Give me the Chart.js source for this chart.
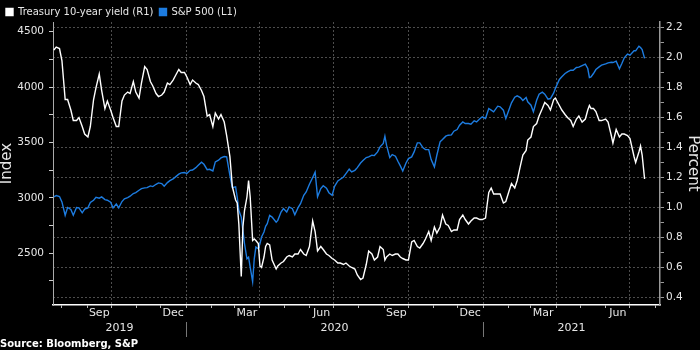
<!DOCTYPE html>
<html>
<head>
<meta charset="utf-8">
<script src="https://cdn.jsdelivr.net/npm/chart.js@4.4.1/dist/chart.umd.min.js"></script>
<style>
  html, body { margin: 0; padding: 0; background: #000; }
  canvas { display: block; }
</style>
</head>
<body>
<canvas id="chart" width="700" height="350"></canvas>
<script>
// observation dates (roughly twice a week, denser through the March 2020 crash)
var dates = [
    '2019-07-22','2019-07-25','2019-07-29','2019-08-01','2019-08-05','2019-08-08','2019-08-12','2019-08-15','2019-08-19','2019-08-22','2019-08-26','2019-08-29',
    '2019-09-02','2019-09-05','2019-09-09','2019-09-12','2019-09-16','2019-09-19','2019-09-23','2019-09-26','2019-09-30',
    '2019-10-03','2019-10-07','2019-10-10','2019-10-14','2019-10-17','2019-10-21','2019-10-24','2019-10-28','2019-10-31',
    '2019-11-04','2019-11-07','2019-11-11','2019-11-14','2019-11-18','2019-11-21','2019-11-25','2019-11-28',
    '2019-12-02','2019-12-05','2019-12-09','2019-12-12','2019-12-16','2019-12-19','2019-12-23','2019-12-26','2019-12-30',
    '2020-01-02','2020-01-06','2020-01-09','2020-01-13','2020-01-16','2020-01-20','2020-01-23','2020-01-27','2020-01-30',
    '2020-02-03','2020-02-06','2020-02-10','2020-02-13','2020-02-17','2020-02-20',
    '2020-02-24','2020-02-27','2020-03-02','2020-03-04','2020-03-06','2020-03-09','2020-03-11','2020-03-13','2020-03-16','2020-03-18','2020-03-20','2020-03-23','2020-03-25','2020-03-27','2020-03-30',
    '2020-04-01','2020-04-03','2020-04-06','2020-04-08','2020-04-10','2020-04-13','2020-04-16','2020-04-21','2020-04-23','2020-04-27','2020-04-30',
    '2020-05-04','2020-05-07','2020-05-11','2020-05-14','2020-05-18','2020-05-21','2020-05-25','2020-05-28',
    '2020-06-01','2020-06-05','2020-06-08','2020-06-11','2020-06-15','2020-06-18','2020-06-22','2020-06-25','2020-06-29',
    '2020-07-02','2020-07-06','2020-07-09','2020-07-13','2020-07-16','2020-07-20','2020-07-23','2020-07-27','2020-07-30',
    '2020-08-03','2020-08-06','2020-08-10','2020-08-13','2020-08-17','2020-08-20','2020-08-24','2020-08-27','2020-08-31',
    '2020-09-02','2020-09-04','2020-09-08','2020-09-11','2020-09-15','2020-09-18','2020-09-21','2020-09-24','2020-09-28',
    '2020-10-01','2020-10-05','2020-10-08','2020-10-12','2020-10-15','2020-10-19','2020-10-22','2020-10-26','2020-10-29',
    '2020-11-02','2020-11-05','2020-11-09','2020-11-12','2020-11-16','2020-11-19','2020-11-23','2020-11-26','2020-11-30',
    '2020-12-03','2020-12-07','2020-12-10','2020-12-14','2020-12-17','2020-12-21','2020-12-24','2020-12-28','2020-12-31',
    '2021-01-04','2021-01-06','2021-01-08','2021-01-11','2021-01-14','2021-01-19','2021-01-22','2021-01-26','2021-01-29',
    '2021-02-02','2021-02-05','2021-02-09','2021-02-12','2021-02-16','2021-02-19','2021-02-23','2021-02-25',
    '2021-03-01','2021-03-04','2021-03-08','2021-03-11','2021-03-15','2021-03-18','2021-03-22','2021-03-25','2021-03-29','2021-03-31',
    '2021-04-05','2021-04-08','2021-04-12','2021-04-15','2021-04-19','2021-04-22','2021-04-26','2021-04-29',
    '2021-05-03','2021-05-07','2021-05-10','2021-05-12','2021-05-14','2021-05-17','2021-05-20','2021-05-24','2021-05-27',
    '2021-06-01','2021-06-04','2021-06-08','2021-06-10','2021-06-14','2021-06-18','2021-06-21','2021-06-24','2021-06-28',
    '2021-07-01','2021-07-06','2021-07-08','2021-07-12','2021-07-14','2021-07-16','2021-07-19'
];

// Treasury 10-year yield, percent (right axis)
var yieldValues = [
    2.05, 2.07, 2.06, 1.98, 1.72, 1.72, 1.65, 1.58, 1.58, 1.60, 1.54, 1.49,
    1.47, 1.54, 1.72, 1.80, 1.89, 1.78, 1.66, 1.71, 1.65,
    1.60, 1.54, 1.54, 1.71, 1.75, 1.77, 1.76, 1.84, 1.77,
    1.73, 1.83, 1.94, 1.92, 1.84, 1.81, 1.76, 1.74,
    1.75, 1.77, 1.83, 1.82, 1.85, 1.88, 1.92, 1.90, 1.90,
    1.87, 1.82, 1.85, 1.83, 1.82, 1.78, 1.74, 1.61, 1.62,
    1.54, 1.63, 1.59, 1.62, 1.57, 1.48,
    1.34, 1.14, 1.05, 1.03, 0.89, 0.54, 0.87, 0.98, 1.07, 1.18, 1.07, 0.78, 0.79, 0.78, 0.76,
    0.61, 0.60, 0.67, 0.74, 0.76, 0.75, 0.65, 0.59, 0.61, 0.63, 0.64,
    0.67, 0.68, 0.67, 0.69, 0.69, 0.72, 0.69, 0.68,
    0.74, 0.91, 0.84, 0.71, 0.74, 0.72, 0.69, 0.68, 0.66,
    0.65, 0.63, 0.63, 0.62, 0.63, 0.61, 0.60, 0.59, 0.55,
    0.52, 0.53, 0.62, 0.71, 0.69, 0.65, 0.67, 0.74, 0.72,
    0.65, 0.67, 0.69, 0.68, 0.69, 0.69, 0.67, 0.66, 0.65,
    0.65, 0.77, 0.78, 0.74, 0.73, 0.76, 0.79, 0.84, 0.78,
    0.87, 0.83, 0.87, 0.95, 0.89, 0.88, 0.84, 0.85, 0.85,
    0.92, 0.95, 0.92, 0.89, 0.91, 0.93, 0.93, 0.92, 0.92,
    0.93, 1.02, 1.10, 1.13, 1.09, 1.09, 1.09, 1.03, 1.04,
    1.11, 1.16, 1.13, 1.18, 1.28, 1.35, 1.38, 1.45,
    1.47, 1.54, 1.56, 1.61, 1.66, 1.70, 1.68, 1.65, 1.72, 1.73,
    1.68, 1.65, 1.62, 1.60, 1.58, 1.54, 1.59, 1.61,
    1.57, 1.59, 1.65, 1.68, 1.66, 1.66, 1.64, 1.58, 1.58,
    1.59, 1.57, 1.48, 1.43, 1.52, 1.47, 1.49, 1.49, 1.48,
    1.46, 1.34, 1.30, 1.37, 1.41, 1.35, 1.19
];

// S&P 500 index level (left axis)
var spxValues = [
    3009, 3021, 3012, 2964, 2843, 2913, 2895, 2843, 2913, 2910, 2865, 2898,
    2910, 2958, 2979, 3006, 2997, 3009, 2985, 2979, 2961,
    2910, 2946, 2910, 2967, 2991, 3003, 3015, 3039, 3048,
    3069, 3084, 3090, 3093, 3108, 3102, 3123, 3135,
    3129, 3105, 3138, 3156, 3171, 3190, 3214, 3226, 3229,
    3220, 3249, 3252, 3273, 3294, 3322, 3303, 3255, 3258,
    3243, 3325, 3340, 3361, 3373, 3370,
    3204, 3093, 3099, 3008, 2888, 2827, 2707, 2586, 2450, 2465, 2375, 2245, 2450, 2556, 2541,
    2586, 2647, 2692, 2743, 2767, 2842, 2827, 2780, 2797, 2872, 2903,
    2872, 2918, 2903, 2848, 2912, 2948, 3024, 3054,
    3123, 3184, 3232, 3010, 3084, 3110, 3087, 3047, 3023,
    3105, 3153, 3168, 3189, 3219, 3259, 3234, 3249, 3273,
    3315, 3337, 3364, 3370, 3385, 3382, 3415, 3461, 3491,
    3557, 3476, 3364, 3391, 3376, 3331, 3289, 3243, 3315,
    3355, 3370, 3415, 3497, 3497, 3452, 3436, 3436, 3346,
    3280, 3385, 3506, 3527, 3557, 3566, 3569, 3602, 3617,
    3656, 3686, 3671, 3671, 3665, 3696, 3686, 3714, 3732,
    3717, 3762, 3807, 3792, 3777, 3828, 3822, 3792, 3717,
    3798, 3858, 3909, 3921, 3906, 3879, 3906, 3867,
    3837, 3777, 3882, 3936, 3954, 3936, 3891, 3897, 3948, 3988,
    4069, 4093, 4123, 4138, 4153, 4153, 4177, 4180,
    4195, 4207, 4168, 4087, 4093, 4123, 4159, 4183, 4198,
    4210, 4219, 4225, 4222, 4234, 4165, 4213, 4265, 4298,
    4289, 4328, 4328, 4370, 4358, 4340, 4259
];

var indexTicks = [2250, 2500, 2750, 3000, 3250, 3500, 3750, 4000, 4250, 4500];
var percentTicks = [0.4, 0.5, 0.6, 0.7, 0.8, 0.9, 1.0, 1.1, 1.2, 1.3, 1.4, 1.5, 1.6, 1.7, 1.8, 1.9, 2.0, 2.1, 2.2];
var monthLabels = ['Sep', 'Dec', 'Mar', 'Jun', 'Sep', 'Dec', 'Mar', 'Jun'];
var monthLabelDates = ['2019-09-16', '2019-12-16', '2020-03-16', '2020-06-16', '2020-09-16', '2020-12-16', '2021-03-16', '2021-06-16'];
var yearLabels = ['2019', '2020', '2021'];
var yearStarts = ['2019-01-01', '2020-01-01', '2021-01-01', '2022-01-01'];

var BLUE = '#1d7ce0';
var GRID = '#4d4d4d';
var TEXT = '#e6e6e6';

// days counted from 2020-01-01, used as the linear x value
function dayNum(s) {
    var p = s.split('-');
    return (Date.UTC(+p[0], +p[1] - 1, +p[2]) - Date.UTC(2020, 0, 1)) / 86400000;
}

var xMin = dayNum('2019-07-21');
var xMax = dayNum('2021-08-07');

// month ticks: small marks every month, dotted grid at quarter starts
var monthTicks = [];
for (var y = 2019; y <= 2021; y++) {
    for (var m = 1; m <= 12; m++) {
        var v = dayNum(y + '-' + m + '-1');
        if (v > xMin && v < xMax) {
            monthTicks.push({ value: v, kind: (m - 1) % 3 === 0 ? 'quarter' : 'month' });
        }
    }
}
monthLabelDates.forEach(function(d, i) {
    monthTicks.push({ value: dayNum(d), kind: 'label', text: monthLabels[i] });
});
monthTicks.sort(function(a, b) { return a.value - b.value; });

// year row: label centred on the visible part of each year, separator at Jan 1
var yearTicks = [];
yearLabels.forEach(function(label, i) {
    var s = Math.max(dayNum(yearStarts[i]), xMin);
    var e = Math.min(dayNum(yearStarts[i + 1]), xMax);
    yearTicks.push({ value: (s + e) / 2, kind: 'label', text: label });
    if (i > 0) yearTicks.push({ value: dayNum(yearStarts[i]), kind: 'sep' });
});
yearTicks.sort(function(a, b) { return a.value - b.value; });

function points(values) {
    return dates.map(function(d, i) { return { x: dayNum(d), y: values[i] }; });
}

Chart.defaults.font.family = "'DejaVu Sans', sans-serif";
Chart.defaults.color = TEXT;

var ctx = document.getElementById('chart').getContext('2d');
var chart = new Chart(ctx, {
    type: 'line',
    data: {
        datasets: [{
            label: 'Treasury 10-year yield (R1)',
            data: points(yieldValues),
            yAxisID: 'y1',
            borderColor: '#ffffff',
            backgroundColor: '#ffffff',
            borderWidth: 1.4,
            pointRadius: 0
        }, {
            label: 'S&P 500 (L1)',
            data: points(spxValues),
            yAxisID: 'y',
            borderColor: BLUE,
            backgroundColor: BLUE,
            borderWidth: 1.4,
            pointRadius: 0
        }]
    },
    options: {
        responsive: false,
        animation: false,
        devicePixelRatio: 1,
        layout: { padding: { top: 1, left: 0, right: 0, bottom: 0 } },
        plugins: {
            tooltip: { enabled: false },
            legend: {
                position: 'top',
                align: 'start',
                maxHeight: 21,
                labels: {
                    boxWidth: 7,
                    boxHeight: 7,
                    padding: 6,
                    color: TEXT,
                    font: { size: 10 }
                }
            },
            subtitle: {
                display: true,
                position: 'bottom',
                align: 'start',
                text: 'Source: Bloomberg, S&P',
                color: '#ffffff',
                font: { size: 10, weight: 'bold' },
                padding: { top: 2, bottom: 0 }
            }
        },
        scales: {
            x: {
                type: 'linear',
                position: 'bottom',
                weight: 0,
                min: xMin,
                max: xMax,
                afterBuildTicks: function(scale) { scale.ticks = monthTicks.slice(); },
                afterFit: function(scale) { scale.height = 17; },
                ticks: {
                    autoSkip: false,
                    maxRotation: 0,
                    padding: -1,
                    color: TEXT,
                    font: { size: 11 },
                    callback: function(value, index, ticks) { return ticks[index].text || ''; }
                },
                grid: {
                    tickLength: 3,
                    color: function(c) { return c.tick && c.tick.kind === 'quarter' ? GRID : 'transparent'; },
                    tickColor: function(c) { return c.tick && c.tick.kind !== 'label' ? '#bbbbbb' : 'transparent'; }
                },
                border: { display: true, color: '#ffffff', width: 1.5, dash: [2, 2] }
            },
            xYear: {
                type: 'linear',
                position: 'bottom',
                weight: 1,
                min: xMin,
                max: xMax,
                afterBuildTicks: function(scale) { scale.ticks = yearTicks.slice(); },
                afterFit: function(scale) { scale.height = 14; },
                ticks: {
                    autoSkip: false,
                    maxRotation: 0,
                    padding: -15,
                    color: TEXT,
                    font: { size: 11 },
                    callback: function(value, index, ticks) { return ticks[index].text || ''; }
                },
                grid: {
                    drawOnChartArea: false,
                    tickLength: 15,
                    color: 'transparent',
                    tickColor: function(c) { return c.tick && c.tick.kind === 'sep' ? '#777777' : 'transparent'; },
                    tickWidth: 1
                },
                border: { display: false }
            },
            y: {
                position: 'left',
                min: 2033,
                max: 4588,
                afterBuildTicks: function(scale) {
                    scale.ticks = indexTicks.map(function(v) { return { value: v }; });
                },
                afterFit: function(scale) { scale.width = 53; },
                ticks: {
                    padding: 5,
                    color: TEXT,
                    font: { size: 10.5 },
                    callback: function(v) { return v % 500 === 0 ? String(v) : ''; }
                },
                grid: { drawOnChartArea: false, tickLength: 4, tickColor: '#cccccc' },
                border: { color: '#aaaaaa', width: 1 },
                title: {
                    display: true,
                    text: 'Index',
                    color: TEXT,
                    font: { size: 15, lineHeight: 1 },
                    padding: { top: 0, bottom: 0 }
                }
            },
            y1: {
                position: 'right',
                min: 0.35,
                max: 2.237,
                afterBuildTicks: function(scale) {
                    scale.ticks = percentTicks.map(function(v) { return { value: v }; });
                },
                afterFit: function(scale) { scale.width = 40; },
                ticks: {
                    padding: 2,
                    color: TEXT,
                    font: { size: 10.5 },
                    callback: function(v) { return Math.round(v * 10) % 2 === 0 ? v.toFixed(1) : ''; }
                },
                grid: {
                    tickLength: 4,
                    tickColor: '#999999',
                    color: function(c) {
                        return c.tick && Math.round(c.tick.value * 10) % 2 === 0 ? GRID : 'transparent';
                    }
                },
                border: { color: '#999999', width: 1.5, dash: [2, 2] },
                title: {
                    display: true,
                    text: 'Percent',
                    color: TEXT,
                    font: { size: 15, lineHeight: 1 },
                    padding: { top: 0, bottom: 0 }
                }
            }
        }
    }
});
</script>
</body>
</html>
